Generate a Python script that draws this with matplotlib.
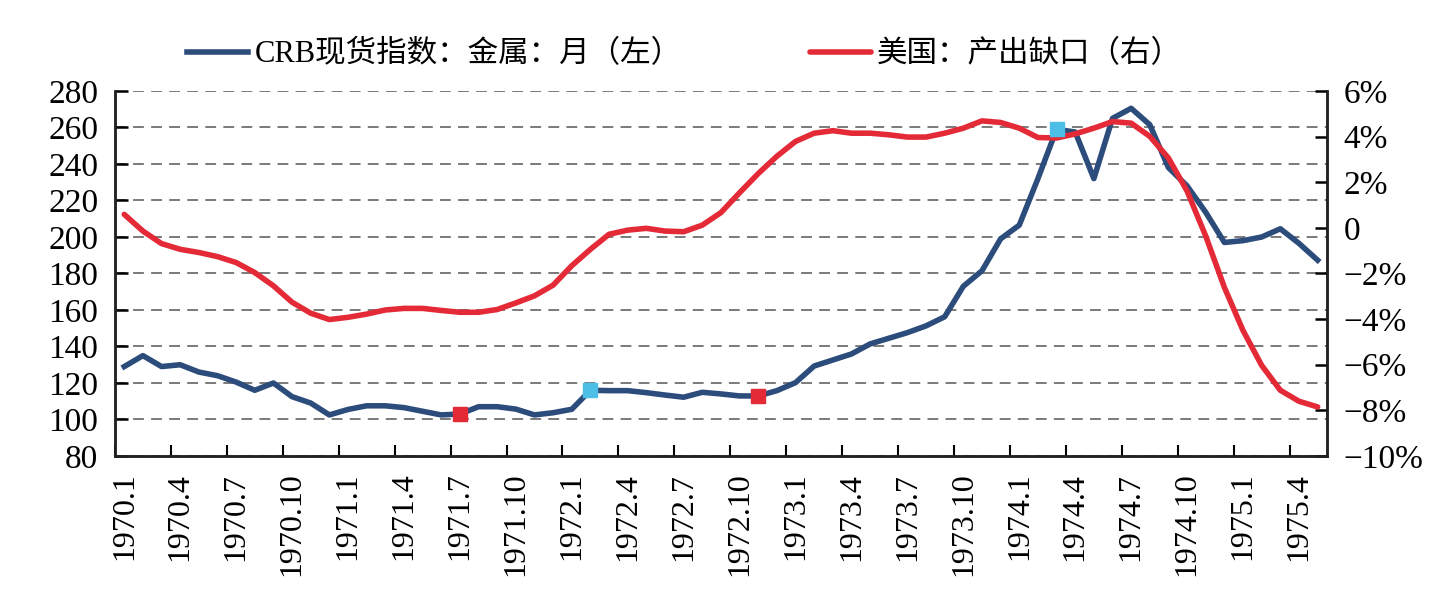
import matplotlib
matplotlib.use("Agg")
import matplotlib.pyplot as plt
import numpy as np

plt.rcParams['font.family'] = ['Liberation Serif', 'Noto Sans CJK SC']

# monthly, 1970.1 - 1975.5
crb_metal = [129, 135, 129, 130, 126, 124, 120.5, 116, 120, 112.5,
             109, 102.5, 105.5, 107.5, 107.5, 106.5, 104.5, 102.5, 103, 107,
             107, 105.7, 102.5, 103.7, 105.6, 116, 115.8, 115.8, 114.7, 113.4,
             112.2, 114.9, 114, 112.9, 112.9, 115.8, 120.2, 129.3, 132.6, 135.9,
             141.4, 144.5, 147.6, 151.3, 156.3, 173, 181.5, 199, 206.5, 232,
             259, 257.5, 232, 265, 270.5, 261.5, 238, 228, 213.5, 197,
             198, 200, 204.5, 196.5, 187.3]
output_gap = [0.59, -0.14, -0.69, -0.94, -1.08, -1.26, -1.52, -1.96, -2.54, -3.26,
              -3.74, -4.02, -3.92, -3.78, -3.6, -3.53, -3.53, -3.62, -3.70, -3.70,
              -3.58, -3.29, -2.98, -2.51, -1.66, -0.94, -0.28, -0.10, -0.02, -0.14,
              -0.17, 0.12, 0.67, 1.54, 2.38, 3.14, 3.79, 4.15, 4.26, 4.15,
              4.15, 4.08, 3.98, 3.98, 4.15, 4.37, 4.69, 4.62, 4.37, 3.96,
              3.94, 4.12, 4.37, 4.66, 4.59, 4.01, 3.06, 1.61, -0.36, -2.61,
              -4.50, -6.03, -7.12, -7.6, -7.85]
tick_labels = ['1970.1', '1970.4', '1970.7', '1970.10', '1971.1', '1971.4', '1971.7',
               '1971.10', '1972.1', '1972.4', '1972.7', '1972.10', '1973.1', '1973.4',
               '1973.7', '1973.10', '1974.1', '1974.4', '1974.7', '1974.10', '1975.1',
               '1975.4']
# highlighted points on the CRB line (month index)
red_marks = [18, 34]
cyan_marks = [25, 50]

left_ticks = list(range(80, 281, 20))
right_ticks = list(range(-10, 7, 2))
right_labels = ['−10%', '−8%', '−6%', '−4%', '−2%', '0', '2%', '4%', '6%']

blue = '#2C4C7C'
red = '#E32A36'
cyan = '#4DBFE6'

n = len(crb_metal)
x = np.arange(n)

fig = plt.figure(figsize=(14.35, 6.03), dpi=100)
ax = fig.add_axes([0.0801, 0.2438, 0.8446, 0.6053])
ax2 = ax.twinx()

ax.plot(x, crb_metal, color=blue, lw=4, solid_joinstyle='round', label='CRB现货指数：金属：月（左）')
ax2.plot(x, output_gap, color=red, lw=4, solid_joinstyle='round', solid_capstyle='round',
         label='美国：产出缺口（右）')
# markers on top of both lines
ax2.plot(x[red_marks], [crb_metal[i] for i in red_marks], 's', color=red, ms=10,
         transform=ax.transData)
ax2.plot(x[cyan_marks], [crb_metal[i] for i in cyan_marks], 's', color=cyan, ms=10,
         transform=ax.transData)

ax.set_xlim(-0.5, n - 0.5)
ax.set_ylim(80, 280)
ax2.set_ylim(-10, 6)

ax.set_yticks(left_ticks)
ax.set_yticklabels([str(v) for v in left_ticks])
ax2.set_yticks(right_ticks)
ax2.set_yticklabels(right_labels)

ax.set_xticks(np.arange(0, n, 3))
ax.set_xticklabels(tick_labels, rotation=90)
ax.set_xticks(np.arange(-0.5, n, 3), minor=True)
ax.tick_params(axis='x', which='major', length=0, pad=12, labelsize=23)
ax.tick_params(axis='x', which='minor', direction='in', length=8, width=1.5)
ax.tick_params(axis='y', direction='in', length=9, width=1.8, pad=12, labelsize=24)
ax2.tick_params(axis='y', direction='in', length=9, width=1.8, pad=12, labelsize=24)

ax.grid(axis='y', color='#6F6F6F', ls=(0, (6, 4)), lw=1.3)
ax.set_axisbelow(True)

for a in (ax, ax2):
    a.spines['top'].set_visible(False)
    for s in ('left', 'right', 'bottom'):
        a.spines[s].set_linewidth(1.8)
        a.spines[s].set_color('#222222')

h1, l1 = ax.get_legend_handles_labels()
h2, l2 = ax2.get_legend_handles_labels()
fig.legend(h1 + h2[:1], l1 + l2[:1], loc='center', bbox_to_anchor=(0.477, 0.909),
           ncol=2, frameon=False, fontsize=22, handlelength=2.0, handletextpad=0.2,
           columnspacing=4.2)

fig.savefig('out.png', dpi=100)
